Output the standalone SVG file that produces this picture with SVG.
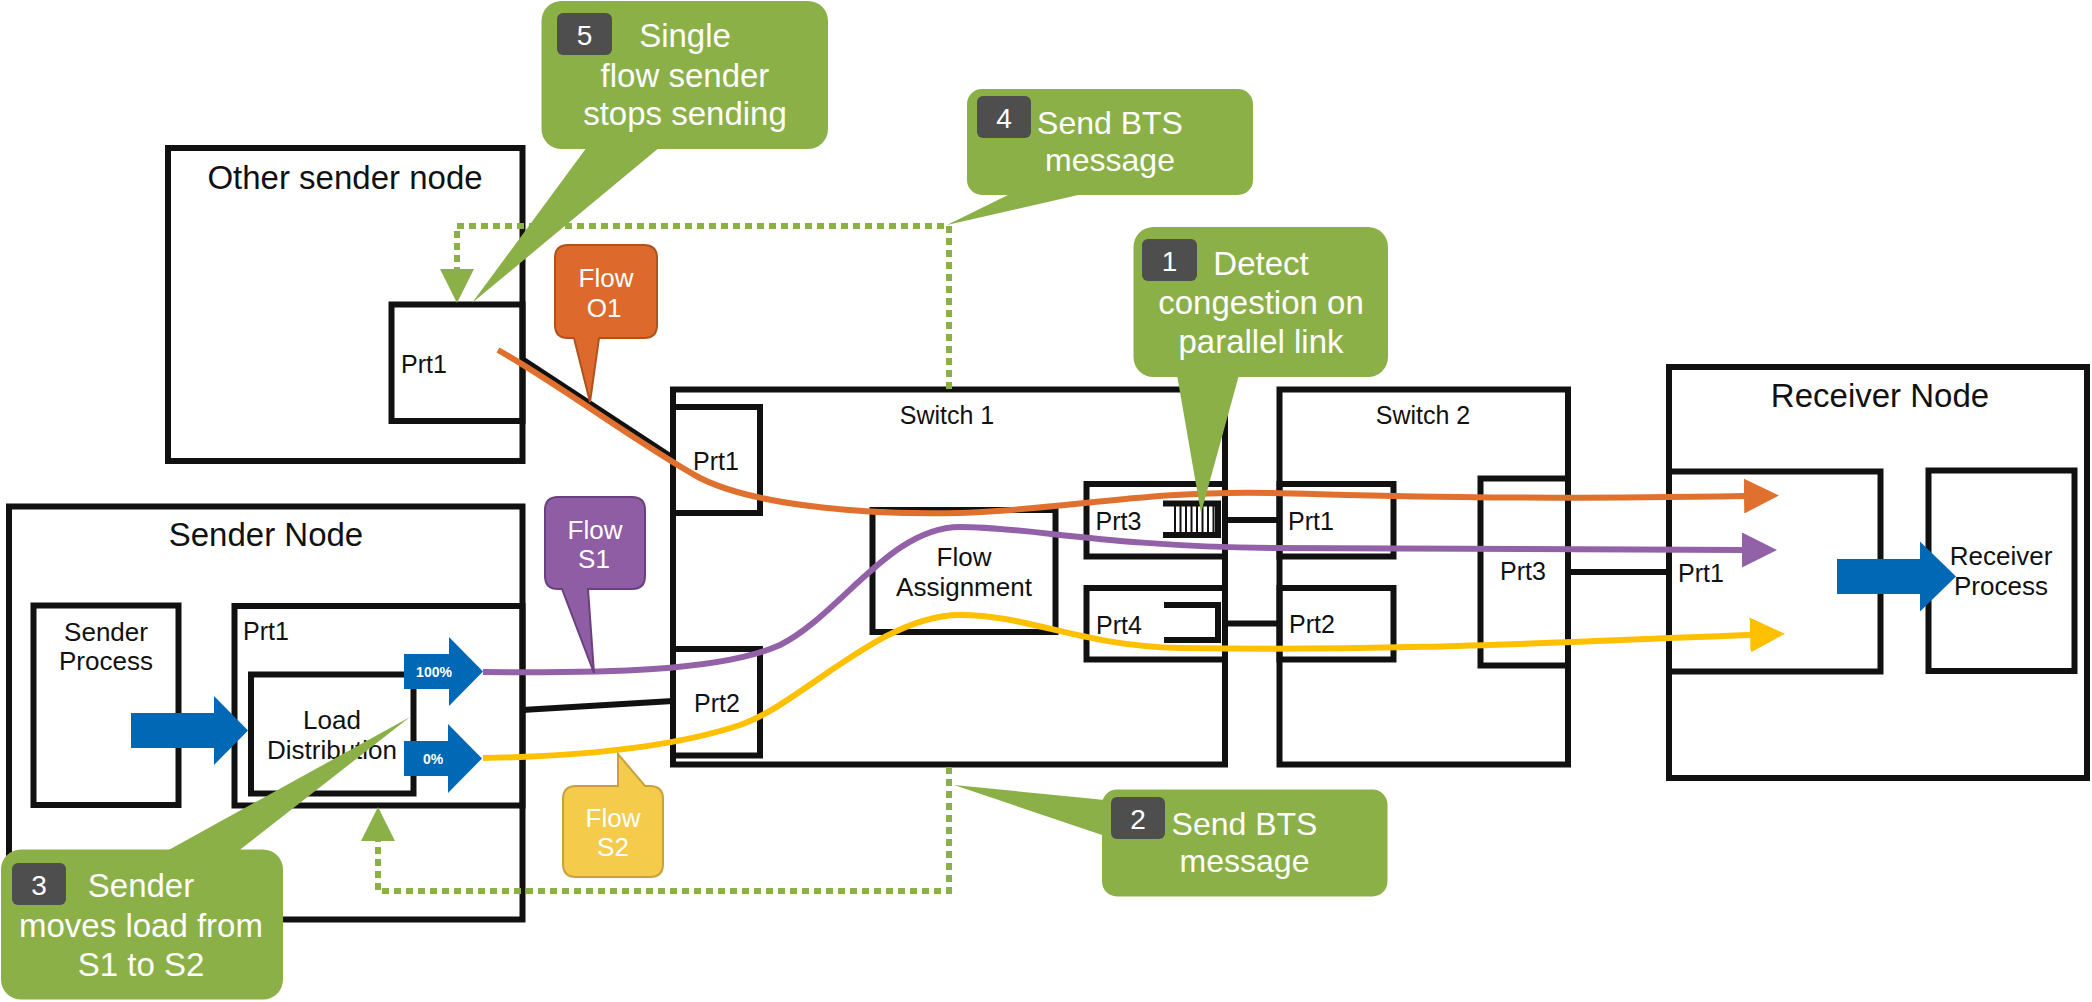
<svg xmlns="http://www.w3.org/2000/svg" width="2092" height="1002" viewBox="0 0 2092 1002">
  <style>
    text { font-family: "Liberation Sans", Arial, Helvetica, sans-serif; }
    .box { fill: none; stroke: #111; stroke-width: 6; }
    .link { fill: none; stroke: #111; stroke-width: 6; }
    .title { font-size: 33px; fill: #111; text-anchor: middle; }
    .lbl { font-size: 25px; fill: #111; }
    .mid { text-anchor: middle; }
    .proc { font-size: 26px; fill: #111; text-anchor: middle; }
    .blue { fill: #0068b4; }
    .pct { font-size: 14px; font-weight: bold; fill: #fff; text-anchor: middle; }
    .flow { fill: none; stroke-width: 6; }
    .dotted { fill: none; stroke: #8bb048; stroke-width: 6; stroke-dasharray: 7 5; }
    .note { fill: #8bb048; }
    .num { fill: #4e4e4e; }
    .numtxt { font-size: 28px; fill: #fff; text-anchor: middle; }
    .ntxt { font-size: 33px; fill: #fff; text-anchor: middle; }
    .ftxt { font-size: 26px; fill: #fff; text-anchor: middle; }
  </style>
  <defs>
    <marker id="headOrange" viewBox="0 0 35 35" refX="0" refY="17.5" markerWidth="35" markerHeight="35" markerUnits="userSpaceOnUse" orient="auto">
      <path d="M0,0 L35,17.5 L0,35 Z" fill="#e0702e"/>
    </marker>
    <marker id="headPurple" viewBox="0 0 35 35" refX="0" refY="17.5" markerWidth="35" markerHeight="35" markerUnits="userSpaceOnUse" orient="auto">
      <path d="M0,0 L35,17.5 L0,35 Z" fill="#9361a8"/>
    </marker>
    <marker id="headYellow" viewBox="0 0 35 35" refX="0" refY="17.5" markerWidth="35" markerHeight="35" markerUnits="userSpaceOnUse" orient="auto">
      <path d="M0,0 L35,17.5 L0,35 Z" fill="#ffc000"/>
    </marker>
    <marker id="headBts" viewBox="0 0 34 34" refX="0" refY="17" markerWidth="34" markerHeight="34" markerUnits="userSpaceOnUse" orient="auto">
      <path d="M0,0 L34,17 L0,34 Z" fill="#8bb048"/>
    </marker>
  </defs>

  <rect width="2092" height="1002" fill="#fff"/>

  <!-- Other sender node -->
  <g id="other-sender">
    <rect class="box" x="168" y="148" width="354.5" height="313"/>
    <text class="title" x="345" y="189">Other sender node</text>
    <rect class="box" x="391.5" y="304.5" width="131" height="116.5"/>
    <text class="lbl" x="401" y="373">Prt1</text>
  </g>

  <!-- Sender node -->
  <g id="sender">
    <rect class="box" x="9" y="506.5" width="513.5" height="413"/>
    <text class="title" x="266" y="546">Sender Node</text>
    <rect class="box" x="33.5" y="605.5" width="145" height="199.5"/>
    <text class="proc" x="106" y="641">Sender</text>
    <text class="proc" x="106" y="670">Process</text>
    <rect class="box" x="234.5" y="606" width="288" height="199.5"/>
    <text class="lbl" x="243" y="639.5">Prt1</text>
    <rect class="box" x="251" y="674.5" width="162.5" height="119"/>
    <text class="proc" x="332" y="728.5">Load</text>
    <text class="proc" x="332" y="758.5">Distribution</text>
    <polygon class="blue" points="131,713 214,713 214,696 248,730.5 214,765 214,748 131,748"/>
    <polygon class="blue" points="404,654 449,654 449,637 483,671.5 449,706 449,689 404,689"/>
    <text class="pct" x="434" y="677">100%</text>
    <polygon class="blue" points="404,741 448,741 448,724 482,758.5 448,793 448,776 404,776"/>
    <text class="pct" x="433" y="763.5">0%</text>
  </g>

  <!-- Switch 1 -->
  <g id="switch1">
    <rect class="box" x="673" y="389.5" width="552" height="375"/>
    <text class="lbl mid" x="947" y="423.5">Switch 1</text>
    <rect class="box" x="673" y="407" width="87" height="106"/>
    <text class="lbl" x="693" y="469.5">Prt1</text>
    <rect class="box" x="673" y="649" width="87" height="106.5"/>
    <text class="lbl" x="694" y="712">Prt2</text>
    <rect class="box" x="872.5" y="510" width="183" height="122"/>
    <text class="proc" x="964" y="566">Flow</text>
    <text class="proc" x="964" y="596">Assignment</text>
    <rect class="box" x="1086.5" y="484" width="138.5" height="72.5"/>
    <text class="lbl" x="1095.5" y="530">Prt3</text>
    <path class="link" d="M1163,503.5 H1218 V535 H1163"/>
    <path fill="none" stroke="#111" stroke-width="2" d="M1175,506 V532 M1180.5,506 V532 M1186,506 V532 M1191.5,506 V532 M1197,506 V532 M1202.5,506 V532 M1208,506 V532 M1213.5,506 V532"/>
    <rect class="box" x="1086.5" y="588" width="138.5" height="71.5"/>
    <text class="lbl" x="1096" y="633.5">Prt4</text>
    <path class="link" d="M1164,605 H1218 V640 H1164"/>
  </g>

  <!-- Switch 2 -->
  <g id="switch2">
    <rect class="box" x="1279.5" y="389.5" width="288.5" height="375"/>
    <text class="lbl mid" x="1423" y="423.5">Switch 2</text>
    <rect class="box" x="1279.5" y="484" width="114" height="72.5"/>
    <text class="lbl" x="1288" y="530">Prt1</text>
    <rect class="box" x="1279.5" y="588" width="114" height="71.5"/>
    <text class="lbl" x="1289" y="633">Prt2</text>
    <rect class="box" x="1480.5" y="478.5" width="87.5" height="187"/>
    <text class="lbl" x="1500" y="580">Prt3</text>
  </g>

  <!-- Receiver node -->
  <g id="receiver">
    <rect class="box" x="1669" y="367" width="418" height="411"/>
    <text class="title" x="1880" y="407">Receiver Node</text>
    <rect class="box" x="1669" y="471.5" width="211.5" height="200"/>
    <text class="lbl" x="1678" y="582">Prt1</text>
    <rect class="box" x="1928.5" y="470.5" width="146" height="200.5"/>
    <text class="proc" x="2001" y="565">Receiver</text>
    <text class="proc" x="2001" y="595">Process</text>
    <polygon class="blue" points="1837,559 1920,559 1920,541.5 1956,576.5 1920,611.5 1920,594 1837,594"/>
  </g>

  <!-- Connectors: physical links, flows and BTS signalling -->
  <g id="connectors">
    <line class="link" x1="522" y1="359" x2="673" y2="458"/>
    <line class="link" x1="522" y1="710" x2="673" y2="701"/>
    <line class="link" x1="1225" y1="520" x2="1280" y2="520"/>
    <line class="link" x1="1225" y1="623.5" x2="1280" y2="623.5"/>
    <line class="link" x1="1568" y1="572" x2="1669" y2="572"/>

    <path class="flow" stroke="#e0702e" marker-end="url(#headOrange)" d="M498,350 C560,385 640,445 700,478 C760,508 880,515 960,513 C1060,510 1150,490 1272,493 C1400,496 1500,500 1744,496"/>
    <path class="flow" stroke="#9361a8" marker-end="url(#headPurple)" d="M483,672 C600,673 720,672 780,645 C840,615 890,527 960,527 C1030,527 1100,546 1272,548 C1450,550 1600,550 1742,550"/>
    <path class="flow" stroke="#ffc000" marker-end="url(#headYellow)" d="M483,758 C600,756 680,745 740,725 C800,705 880,615 960,615 C1030,615 1080,646 1180,648 C1400,652 1600,640 1750,635"/>

    <path class="dotted" marker-end="url(#headBts)" d="M949,389 V226 H457 V269"/>
    <path class="dotted" marker-end="url(#headBts)" d="M949,767 V891 H378 V841"/>
  </g>

  <!-- Flow labels -->
  <g id="flow-o1">
    <path fill="#dd6a2c" stroke="#b0521e" stroke-width="2" d="M568,245 H644 Q657,245 657,258 V325 Q657,338 644,338 H599 L590,402 L574,338 H568 Q555,338 555,325 V258 Q555,245 568,245 Z"/>
    <text class="ftxt" x="606" y="287">Flow</text>
    <text class="ftxt" x="604" y="317">O1</text>
  </g>
  <g id="flow-s1">
    <path fill="#8f5da3" stroke="#6a4080" stroke-width="2" d="M558,497 H632 Q645,497 645,510 V576 Q645,589 632,589 H588 L594,673 L562,589 H558 Q545,589 545,576 V510 Q545,497 558,497 Z"/>
    <text class="ftxt" x="595" y="538.5">Flow</text>
    <text class="ftxt" x="594" y="567.5">S1</text>
  </g>
  <g id="flow-s2">
    <path fill="#f5cb4c" stroke="#c9a13a" stroke-width="2" d="M576,786 H618 L618,754 L645,786 H650 Q663,786 663,799 V864 Q663,877 650,877 H576 Q563,877 563,864 V799 Q563,786 576,786 Z"/>
    <text class="ftxt" x="613" y="827">Flow</text>
    <text class="ftxt" x="613" y="856">S2</text>
  </g>

  <!-- Step callouts -->
  <g id="step1">
    <rect class="note" x="1133.5" y="227" width="254.5" height="150" rx="20"/>
    <polygon class="note" points="1177,375 1239,375 1201,513"/>
    <rect class="num" x="1142" y="239" width="55" height="42" rx="6"/>
    <text class="numtxt" x="1169.5" y="271">1</text>
    <text class="ntxt" x="1261" y="275">Detect</text>
    <text class="ntxt" x="1261" y="314">congestion on</text>
    <text class="ntxt" x="1261" y="353">parallel link</text>
  </g>
  <g id="step2">
    <rect class="note" x="1102" y="789.5" width="285.5" height="107" rx="15"/>
    <polygon class="note" points="954,785 1105,800 1105,836"/>
    <rect class="num" x="1111" y="797" width="54" height="42" rx="6"/>
    <text class="numtxt" x="1138" y="829">2</text>
    <text class="ntxt" x="1244.5" y="835" style="font-size:32px">Send BTS</text>
    <text class="ntxt" x="1244.5" y="871.5" style="font-size:32px">message</text>
  </g>
  <g id="step3">
    <rect class="note" x="1" y="849.5" width="282" height="150" rx="20"/>
    <polygon class="note" points="165,852 237,852 410,717"/>
    <rect class="num" x="12" y="863" width="54" height="42" rx="6"/>
    <text class="numtxt" x="39" y="895">3</text>
    <text class="ntxt" x="141" y="897">Sender</text>
    <text class="ntxt" x="141" y="937">moves load from</text>
    <text class="ntxt" x="141" y="976">S1 to S2</text>
  </g>
  <g id="step4">
    <rect class="note" x="967" y="89" width="286" height="106" rx="15"/>
    <polygon class="note" points="1012,193 1087,193 947,225"/>
    <rect class="num" x="977" y="96" width="54" height="42" rx="6"/>
    <text class="numtxt" x="1004" y="128">4</text>
    <text class="ntxt" x="1110" y="134" style="font-size:32px">Send BTS</text>
    <text class="ntxt" x="1110" y="170.5" style="font-size:32px">message</text>
  </g>
  <g id="step5">
    <rect class="note" x="541.5" y="1" width="286.5" height="148" rx="20"/>
    <polygon class="note" points="587,147 660,147 472,303"/>
    <rect class="num" x="557" y="13" width="55" height="42" rx="6"/>
    <text class="numtxt" x="584.5" y="45">5</text>
    <text class="ntxt" x="685" y="47">Single</text>
    <text class="ntxt" x="685" y="86.5">flow sender</text>
    <text class="ntxt" x="685" y="125">stops sending</text>
  </g>
</svg>
